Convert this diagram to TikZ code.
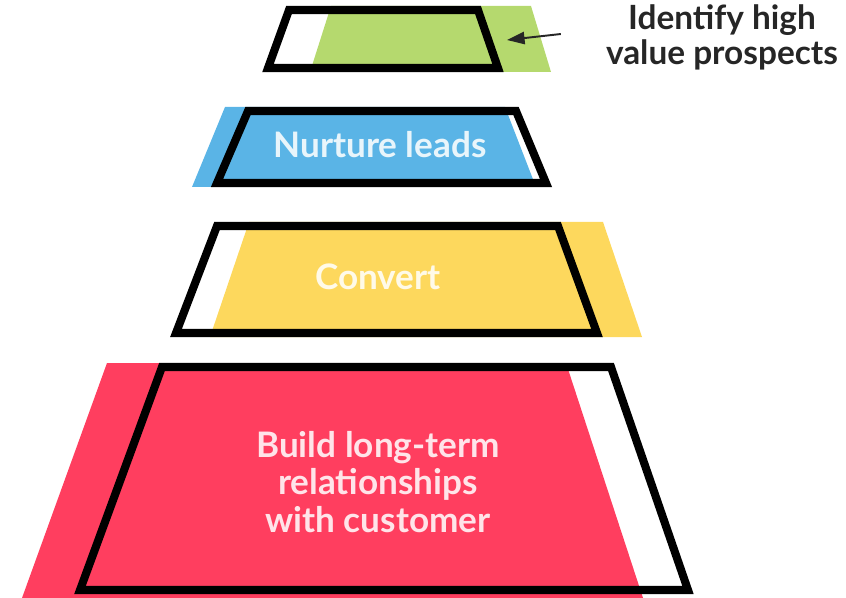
\documentclass[tikz,border=0pt]{standalone}
\usepackage{fontspec}
\setmainfont{Lato}
\usetikzlibrary{arrows.meta,positioning}
\definecolor{leafgreen}{RGB}{181,217,110}
\definecolor{skyblue}{RGB}{90,180,230}
\definecolor{sunyellow}{RGB}{253,216,93}
\definecolor{coralred}{RGB}{255,62,95}
\definecolor{inkgrey}{RGB}{38,38,38}

\begin{document}
\begin{tikzpicture}[x=0.02cm,y=-0.02cm,
    frame/.style={draw=black,line width=4.6pt,line join=miter},
    tiertext/.style={font=\bfseries\fontsize{20}{21.5}\selectfont,align=center},
    pointer/.style={-{Triangle[length=10pt,width=7pt]},line width=1.1pt,inkgrey}]
  \useasboundingbox (0,0) rectangle (846,598);

  % green tier
  \fill[leafgreen] (331,6) -- (531,6) -- (551,72) -- (310,72) -- cycle;
  \draw[frame] (289,10) -- (478,10) -- (498,68) -- (268,68) -- cycle;
  \coordinate (tip) at (507,40);
  \node[font=\bfseries\fontsize{19}{20}\selectfont,text=inkgrey,align=center]
    (prospects) at (722,37) {Identify high\\value prospects};
  \draw[pointer] ([xshift=-0.78cm,yshift=0.06cm]prospects.west) -- (tip);

  % blue tier
  \fill[skyblue] (225,107) -- (505,107) -- (536,187) -- (192,187) -- cycle;
  \draw[frame] (248,111) -- (516,111) -- (546,183) -- (217,183) -- cycle;
  \node[tiertext,text=white!86!skyblue] (nurture) at (380,145) {Nurture leads};

  % yellow tier
  \fill[sunyellow] (249,222) -- (603,222) -- (642,337) -- (210,337) -- cycle;
  \draw[frame] (217,226) -- (558,226) -- (597,333) -- (176,333) -- cycle;
  \node[tiertext,text=white!86!sunyellow] (convert) at (378,277) {Convert};

  % red tier
  \fill[coralred] (107,363) -- (566,363) -- (643,598) -- (22,598) -- cycle;
  \draw[frame] (162,367) -- (611,367) -- (688,590) -- (80,590) -- cycle;
  \node[tiertext,text=white!86!coralred] (relations) at (378,482)
    {Build long-term\\relationships\\with customer};
\end{tikzpicture}
\end{document}
